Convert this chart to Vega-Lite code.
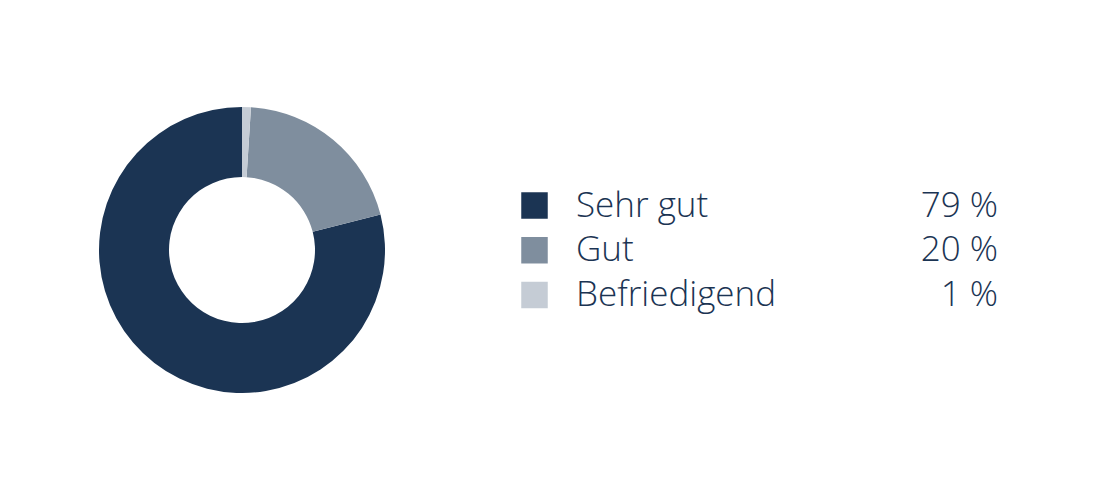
{
  "$schema": "https://vega.github.io/schema/vega-lite/v6.json",
  "padding": {"left": 99, "top": 107, "right": 0, "bottom": 0},
  "background": "white",
  "data": {
    "values": [
      {"label": "Sehr gut", "value": 79, "text": "79 %"},
      {"label": "Gut", "value": 20, "text": "20 %"},
      {"label": "Befriedigend", "value": 1, "text": "1 %"}
    ]
  },
  "spacing": 136,
  "hconcat": [
    {
      "width": 286,
      "height": 286,
      "mark": {"type": "arc", "innerRadius": 73, "outerRadius": 143},
      "encoding": {
        "theta": {"field": "value", "type": "quantitative", "stack": true},
        "order": {"field": "value", "type": "quantitative", "sort": "ascending"},
        "color": {
          "field": "label",
          "type": "nominal",
          "legend": null,
          "scale": {
            "domain": ["Sehr gut", "Gut", "Befriedigend"],
            "range": ["#1b3453", "#7f8e9e", "#c5ccd5"]
          }
        }
      }
    },
    {
      "width": 477,
      "height": 286,
      "encoding": {
        "y": {
          "field": "label",
          "type": "nominal",
          "sort": ["Sehr gut", "Gut", "Befriedigend"],
          "scale": {"type": "point", "padding": 0, "range": [98.5, 188]},
          "axis": null
        }
      },
      "layer": [
        {
          "mark": {"type": "square", "size": 702, "opacity": 1, "filled": true},
          "encoding": {
            "x": {"value": 13.5},
            "color": {
              "field": "label",
              "type": "nominal",
              "legend": null,
              "scale": {
                "domain": ["Sehr gut", "Gut", "Befriedigend"],
                "range": ["#1b3453", "#7f8e9e", "#c5ccd5"]
              }
            }
          }
        },
        {
          "mark": {
            "type": "text",
            "align": "left",
            "baseline": "middle",
            "font": "Open Sans",
            "fontWeight": 300,
            "fontSize": 35,
            "color": "#1b3453"
          },
          "encoding": {
            "x": {"value": 55},
            "text": {"field": "label"}
          }
        },
        {
          "mark": {
            "type": "text",
            "align": "right",
            "baseline": "middle",
            "font": "Open Sans",
            "fontWeight": 300,
            "fontSize": 35,
            "color": "#1b3453"
          },
          "encoding": {
            "x": {"value": "width"},
            "text": {"field": "text"}
          }
        }
      ]
    }
  ],
  "config": {"view": {"stroke": null}}
}
